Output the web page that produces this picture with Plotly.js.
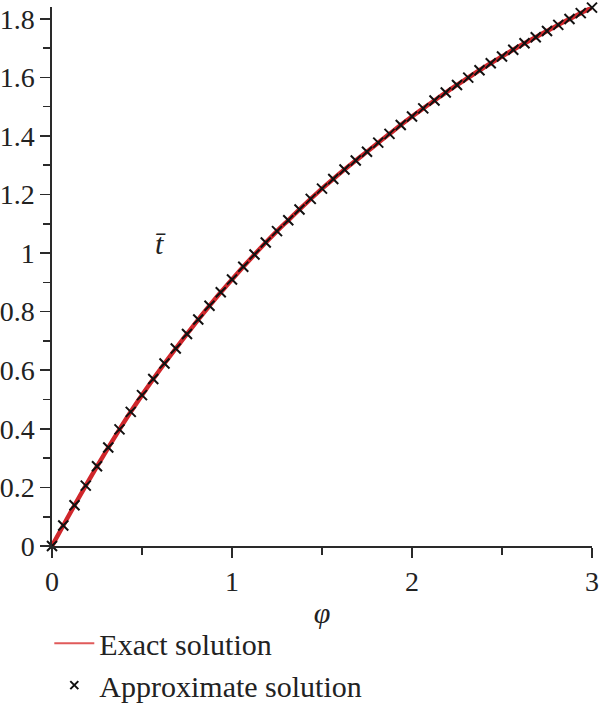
<!DOCTYPE html>
<html>
<head>
<meta charset="utf-8">
<script src="https://cdn.plot.ly/plotly-3.0.1.min.js"></script>
<style>html,body{margin:0;padding:0;background:#fff;}#chart{width:600px;height:705px;}</style>
</head>
<body>
<div id="chart"></div>
<script>
// phi values: 0 .. 3 in steps of 1/16
const phi = [0, 0.0625, 0.125, 0.1875, 0.25, 0.3125, 0.375, 0.4375, 0.5, 0.5625, 0.625, 0.6875, 0.75, 0.8125, 0.875, 0.9375, 1.0, 1.0625, 1.125, 1.1875, 1.25, 1.3125, 1.375, 1.4375, 1.5, 1.5625, 1.625, 1.6875, 1.75, 1.8125, 1.875, 1.9375, 2.0, 2.0625, 2.125, 2.1875, 2.25, 2.3125, 2.375, 2.4375, 2.5, 2.5625, 2.625, 2.6875, 2.75, 2.8125, 2.875, 2.9375, 3.0];
const exactT = [0, 0.070, 0.139, 0.206, 0.272, 0.336, 0.398, 0.458, 0.515, 0.570, 0.623, 0.674, 0.724, 0.773, 0.820, 0.866, 0.910, 0.953, 0.995, 1.036, 1.075, 1.112, 1.149, 1.185, 1.220, 1.253, 1.285, 1.316, 1.346, 1.377, 1.407, 1.437, 1.466, 1.494, 1.521, 1.548, 1.574, 1.599, 1.624, 1.648, 1.671, 1.694, 1.716, 1.737, 1.758, 1.779, 1.799, 1.819, 1.838];
const approxT = [0, 0.070, 0.139, 0.206, 0.272, 0.336, 0.398, 0.458, 0.515, 0.570, 0.623, 0.674, 0.724, 0.773, 0.820, 0.866, 0.910, 0.953, 0.995, 1.036, 1.075, 1.112, 1.149, 1.185, 1.220, 1.253, 1.285, 1.316, 1.346, 1.377, 1.407, 1.437, 1.466, 1.494, 1.521, 1.548, 1.574, 1.599, 1.624, 1.648, 1.671, 1.694, 1.716, 1.737, 1.758, 1.779, 1.799, 1.819, 1.838];
const xTickVals = [0, 1, 2, 3];
const xTickText = ['0', '1', '2', '3'];
const xMinorVals = [0.5, 1.5, 2.5];
const yTickVals = [0, 0.2, 0.4, 0.6, 0.8, 1.0, 1.2, 1.4, 1.6, 1.8];
const yTickText = ['0', '0.2', '0.4', '0.6', '0.8', '1', '1.2', '1.4', '1.6', '1.8'];
const yMinorVals = [0.1, 0.3, 0.5, 0.7, 0.9, 1.1, 1.3, 1.5, 1.7];

const serif = 'Liberation Serif, DejaVu Serif, serif';
const axisColor = '#2a2a2a';
const textColor = '#222';

const traces = [
  {x: phi, y: exactT, mode: 'lines', line: {color: '#d0262b', width: 4.5, shape: 'spline'},
   showlegend: false, hoverinfo: 'skip', cliponaxis: false},
  {x: phi, y: approxT, mode: 'markers', name: 'Approximate solution (plot)',
   marker: {symbol: 'x-thin-open', size: 10, color: '#111', line: {color: '#111', width: 2}},
   showlegend: false, cliponaxis: false},
  {x: [null], y: [null], mode: 'lines', name: 'Exact solution', line: {color: '#e05a5a', width: 2}},
  {x: [null], y: [null], mode: 'markers', name: 'Approximate solution',
   marker: {symbol: 'x-thin-open', size: 8, color: '#111', line: {color: '#111', width: 2}}}
];

const layout = {
  width: 600, height: 705,
  margin: {l: 52, r: 8, t: 7, b: 159, autoexpand: false},
  paper_bgcolor: '#fff', plot_bgcolor: '#fff',
  font: {family: serif, size: 28, color: textColor},
  showlegend: true,
  legend: {x: -0.005, xanchor: 'left', y: -0.132, yanchor: 'top', orientation: 'v',
    font: {family: serif, size: 30, color: textColor}, bgcolor: 'rgba(0,0,0,0)',
    itemwidth: 40, tracegroupgap: 0, borderwidth: 0},
  xaxis: {range: [0, 3], showgrid: false, zeroline: false, showline: true,
    linecolor: axisColor, linewidth: 1.6, ticks: 'outside', ticklen: 10, tickwidth: 1.6, tickcolor: axisColor,
    tickvals: xTickVals, ticktext: xTickText, tickfont: {family: serif, size: 28, color: textColor},
    minor: {tickvals: xMinorVals, ticks: 'outside', ticklen: 7, tickwidth: 1.6, tickcolor: axisColor, showgrid: false},
    title: {text: '<i>φ</i>', font: {family: serif, size: 30, color: textColor}, standoff: 6}},
  yaxis: {range: [0, 1.84], showgrid: false, zeroline: false, showline: true,
    linecolor: axisColor, linewidth: 1.6, ticks: 'outside', ticklen: 10, tickwidth: 1.6, tickcolor: axisColor,
    tickvals: yTickVals, ticktext: yTickText, tickfont: {family: serif, size: 28, color: textColor},
    minor: {tickvals: yMinorVals, ticks: 'outside', ticklen: 7, tickwidth: 1.6, tickcolor: axisColor, showgrid: false}},
  annotations: [
    {xref: 'paper', yref: 'paper', x: 0.187, y: 0.5616, text: '<i>t̄</i>', showarrow: false,
     font: {family: serif, size: 30, color: textColor}}
  ]
};

Plotly.newPlot('chart', traces, layout, {displayModeBar: false, staticPlot: true});
</script>
</body>
</html>
